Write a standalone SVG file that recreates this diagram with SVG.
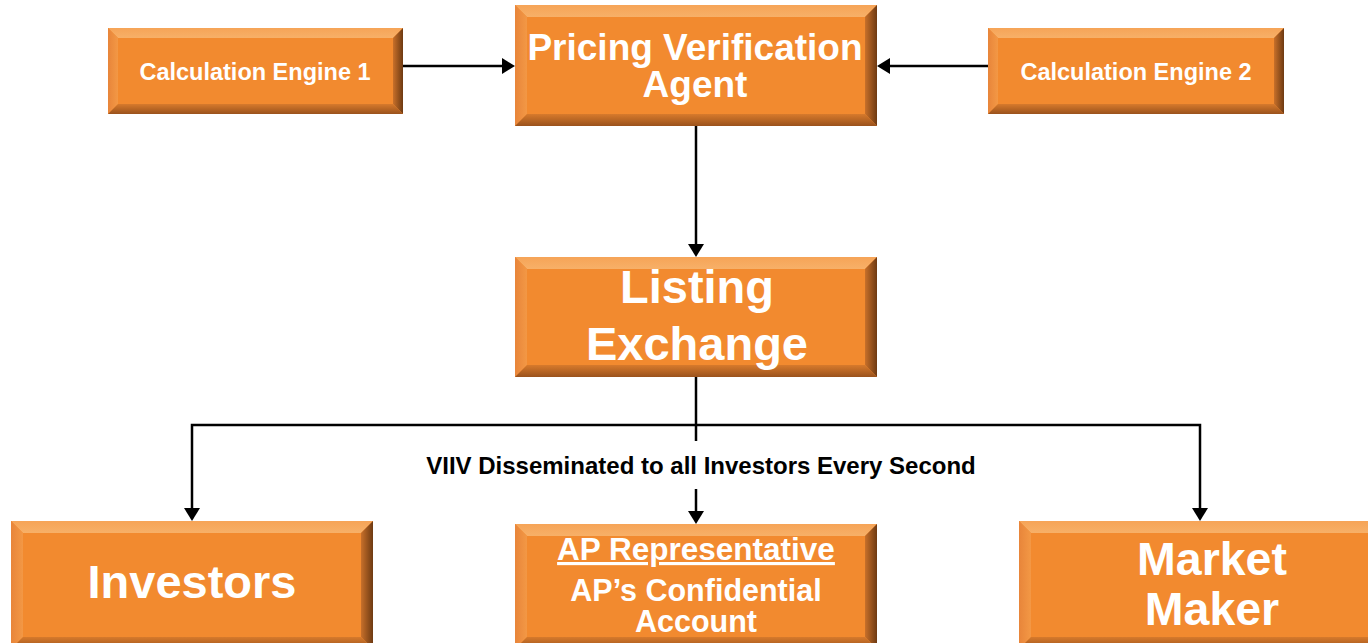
<svg xmlns="http://www.w3.org/2000/svg" width="1368" height="643" viewBox="0 0 1368 643">
  <defs>
    <linearGradient id="gTop" x1="0" y1="0" x2="0" y2="1">
      <stop offset="0" stop-color="#F6A457"/>
      <stop offset="1" stop-color="#F7B068"/>
    </linearGradient>
    <linearGradient id="gLeft" x1="0" y1="0" x2="1" y2="0">
      <stop offset="0" stop-color="#E8853A"/>
      <stop offset="1" stop-color="#F39845"/>
    </linearGradient>
    <linearGradient id="gRight" x1="0" y1="0" x2="1" y2="0">
      <stop offset="0" stop-color="#C8702A"/>
      <stop offset="1" stop-color="#6E3A12"/>
    </linearGradient>
    <linearGradient id="gBottom" x1="0" y1="0" x2="0" y2="1">
      <stop offset="0" stop-color="#D77A2C"/>
      <stop offset="1" stop-color="#9A521C"/>
    </linearGradient>
    <marker id="arrow" markerUnits="userSpaceOnUse" markerWidth="14" markerHeight="17" refX="10" refY="8" orient="auto">
      <path d="M0,0 L13,8 L0,16 Z" fill="#000"/>
    </marker>
    <style>
      .face { fill: #F28A2F; }
      .top { fill: url(#gTop); }
      .left { fill: url(#gLeft); }
      .right { fill: url(#gRight); }
      .bottom { fill: url(#gBottom); }
      .lbl { font-family: "Liberation Sans", Arial, sans-serif; font-weight: bold; fill: #FFFFFF; text-anchor: middle; }
      .conn { stroke: #000; stroke-width: 2.5; fill: none; }
      .note { font-family: "Liberation Sans", Arial, sans-serif; font-weight: bold; fill: #000; text-anchor: middle; font-size: 24px; }
    </style>
  </defs>

  <rect width="1368" height="643" fill="#FFFFFF"/>

  <!-- Connectors -->
  <g id="connectors">
    <line class="conn" x1="403" y1="66" x2="512" y2="66" marker-end="url(#arrow)"/>
    <line class="conn" x1="988" y1="66" x2="880" y2="66" marker-end="url(#arrow)"/>
    <line class="conn" x1="696" y1="126" x2="696" y2="254" marker-end="url(#arrow)"/>
    <line class="conn" x1="696" y1="377" x2="696" y2="425"/>
    <polyline class="conn" points="192,440 192,425 1200,425 1200,440"/>
    <line class="conn" x1="192" y1="440" x2="192" y2="518" marker-end="url(#arrow)"/>
    <line class="conn" x1="1200" y1="440" x2="1200" y2="518" marker-end="url(#arrow)"/>
    <line class="conn" x1="696" y1="425" x2="696" y2="441"/>
    <line class="conn" x1="696" y1="489" x2="696" y2="521" marker-end="url(#arrow)"/>
    <text class="note" x="701" y="474">VIIV Disseminated to all Investors Every Second</text>
  </g>

  <!-- Calculation Engine 1 -->
  <g id="calc-engine-1">
    <rect class="face" x="108" y="28" width="295" height="86"/>
    <polygon class="top" points="108,28 403,28 393,38 118,38"/>
    <polygon class="left" points="108,28 118,38 118,104 108,114"/>
    <polygon class="right" points="403,28 403,114 393,104 393,38"/>
    <polygon class="bottom" points="108,114 118,104 393,104 403,114"/>
    <text class="lbl" x="255" y="80" font-size="23.5">Calculation Engine 1</text>
  </g>

  <!-- Calculation Engine 2 -->
  <g id="calc-engine-2">
    <rect class="face" x="988" y="28" width="296" height="86"/>
    <polygon class="top" points="988,28 1284,28 1274,38 998,38"/>
    <polygon class="left" points="988,28 998,38 998,104 988,114"/>
    <polygon class="right" points="1284,28 1284,114 1274,104 1274,38"/>
    <polygon class="bottom" points="988,114 998,104 1274,104 1284,114"/>
    <text class="lbl" x="1136" y="80" font-size="23.5">Calculation Engine 2</text>
  </g>

  <!-- Pricing Verification Agent -->
  <g id="pricing-verification-agent">
    <rect class="face" x="515" y="5" width="362" height="121"/>
    <polygon class="top" points="515,5 877,5 865,17 527,17"/>
    <polygon class="left" points="515,5 527,17 527,114 515,126"/>
    <polygon class="right" points="877,5 877,126 865,114 865,17"/>
    <polygon class="bottom" points="515,126 527,114 865,114 877,126"/>
    <text class="lbl" x="695" y="60" font-size="37">Pricing Verification</text>
    <text class="lbl" x="695" y="97" font-size="37">Agent</text>
  </g>

  <!-- Listing Exchange -->
  <g id="listing-exchange">
    <rect class="face" x="515" y="257" width="362" height="120"/>
    <polygon class="top" points="515,257 877,257 865,269 527,269"/>
    <polygon class="left" points="515,257 527,269 527,365 515,377"/>
    <polygon class="right" points="877,257 877,377 865,365 865,269"/>
    <polygon class="bottom" points="515,377 527,365 865,365 877,377"/>
    <text class="lbl" x="697" y="303" font-size="47">Listing</text>
    <text class="lbl" x="697" y="360" font-size="47">Exchange</text>
  </g>

  <!-- Investors -->
  <g id="investors">
    <rect class="face" x="11" y="521" width="362" height="128"/>
    <polygon class="top" points="11,521 373,521 361,533 23,533"/>
    <polygon class="left" points="11,521 23,533 23,637 11,649"/>
    <polygon class="right" points="373,521 373,649 361,637 361,533"/>
    <polygon class="bottom" points="11,649 23,637 361,637 373,649"/>
    <text class="lbl" x="192" y="598" font-size="47">Investors</text>
  </g>

  <!-- AP Representative -->
  <g id="ap-representative">
    <rect class="face" x="515" y="524" width="362" height="125"/>
    <polygon class="top" points="515,524 877,524 865,536 527,536"/>
    <polygon class="left" points="515,524 527,536 527,637 515,649"/>
    <polygon class="right" points="877,524 877,649 865,637 865,536"/>
    <polygon class="bottom" points="515,649 527,637 865,637 877,649"/>
    <text class="lbl" x="696" y="560" font-size="31.5" style="text-decoration: underline">AP Representative</text>
    <text class="lbl" x="696" y="601" font-size="30.5">AP’s Confidential</text>
    <text class="lbl" x="696" y="632" font-size="30.5">Account</text>
  </g>

  <!-- Market Maker -->
  <g id="market-maker">
    <rect class="face" x="1019" y="521" width="362" height="128"/>
    <polygon class="top" points="1019,521 1381,521 1369,533 1031,533"/>
    <polygon class="left" points="1019,521 1031,533 1031,637 1019,649"/>
    <polygon class="bottom" points="1019,649 1031,637 1369,637 1381,649"/>
    <text class="lbl" x="1212" y="575" font-size="46.5">Market</text>
    <text class="lbl" x="1212" y="625" font-size="46.5">Maker</text>
  </g>
</svg>
